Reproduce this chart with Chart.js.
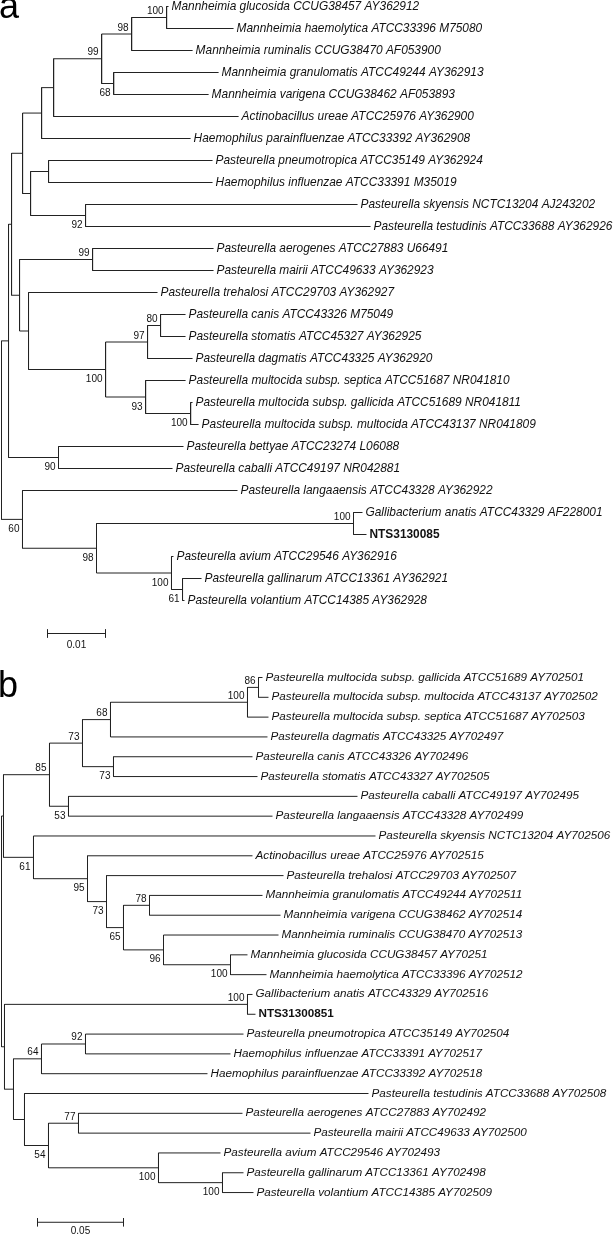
<!DOCTYPE html>
<html>
<head>
<meta charset="utf-8">
<script src="https://cdn.jsdelivr.net/npm/chart.js@4"></script>
<style>
  body { margin: 0; background: #fff; }
  canvas { position: absolute; left: 0; }
</style>
</head>
<body>
<canvas id="treeA" width="615" height="660" style="top:0"></canvas>
<canvas id="treeB" width="615" height="574" style="top:660px"></canvas>
<script>
// leaf names, top to bottom, as printed on each tree
const leavesA = [
  'Mannheimia glucosida CCUG38457 AY362912',
  'Mannheimia haemolytica ATCC33396 M75080',
  'Mannheimia ruminalis CCUG38470 AF053900',
  'Mannheimia granulomatis ATCC49244 AY362913',
  'Mannheimia varigena CCUG38462 AF053893',
  'Actinobacillus ureae ATCC25976 AY362900',
  'Haemophilus parainfluenzae ATCC33392 AY362908',
  'Pasteurella pneumotropica ATCC35149 AY362924',
  'Haemophilus influenzae ATCC33391 M35019',
  'Pasteurella skyensis NCTC13204 AJ243202',
  'Pasteurella testudinis ATCC33688 AY362926',
  'Pasteurella aerogenes ATCC27883 U66491',
  'Pasteurella mairii ATCC49633 AY362923',
  'Pasteurella trehalosi ATCC29703 AY362927',
  'Pasteurella canis ATCC43326 M75049',
  'Pasteurella stomatis ATCC45327 AY362925',
  'Pasteurella dagmatis ATCC43325 AY362920',
  'Pasteurella multocida subsp. septica ATCC51687 NR041810',
  'Pasteurella multocida subsp. gallicida ATCC51689 NR041811',
  'Pasteurella multocida subsp. multocida ATCC43137 NR041809',
  'Pasteurella bettyae ATCC23274 L06088',
  'Pasteurella caballi ATCC49197 NR042881',
  'Pasteurella langaaensis ATCC43328 AY362922',
  'Gallibacterium anatis ATCC43329 AF228001',
  'NTS3130085',
  'Pasteurella avium ATCC29546 AY362916',
  'Pasteurella gallinarum ATCC13361 AY362921',
  'Pasteurella volantium ATCC14385 AY362928'
];
const leavesB = [
  'Pasteurella multocida subsp. gallicida ATCC51689 AY702501',
  'Pasteurella multocida subsp. multocida ATCC43137 AY702502',
  'Pasteurella multocida subsp. septica ATCC51687 AY702503',
  'Pasteurella dagmatis ATCC43325 AY702497',
  'Pasteurella canis ATCC43326 AY702496',
  'Pasteurella stomatis ATCC43327 AY702505',
  'Pasteurella caballi ATCC49197 AY702495',
  'Pasteurella langaaensis ATCC43328 AY702499',
  'Pasteurella skyensis NCTC13204 AY702506',
  'Actinobacillus ureae ATCC25976 AY702515',
  'Pasteurella trehalosi ATCC29703 AY702507',
  'Mannheimia granulomatis ATCC49244 AY702511',
  'Mannheimia varigena CCUG38462 AY702514',
  'Mannheimia ruminalis CCUG38470 AY702513',
  'Mannheimia glucosida CCUG38457 AY70251',
  'Mannheimia haemolytica ATCC33396 AY702512',
  'Gallibacterium anatis ATCC43329 AY702516',
  'NTS31300851',
  'Pasteurella pneumotropica ATCC35149 AY702504',
  'Haemophilus influenzae ATCC33391 AY702517',
  'Haemophilus parainfluenzae ATCC33392 AY702518',
  'Pasteurella testudinis ATCC33688 AY702508',
  'Pasteurella aerogenes ATCC27883 AY702492',
  'Pasteurella mairii ATCC49633 AY702500',
  'Pasteurella avium ATCC29546 AY702493',
  'Pasteurella gallinarum ATCC13361 AY702498',
  'Pasteurella volantium ATCC14385 AY702509'
];

// topology, bootstrap values and branch lengths (leaves referred to by index)
const newickA = '(((((((((0:0.00034,1:0.01155)100:0.00603,2:0.01052)98:0.00517,(3:0.01810,4:0.01638)68:0.00207)99:0.00828,5:0.03190):0.00207,6:0.02569):0.00328,((7:0.02828,8:0.02828):0.00310,(9:0.04690,10:0.04914)92:0.00948):0.00138):0.00190,((11:0.02086,12:0.02086)99:0.01259,(13:0.02224,(((14:0.00431,15:0.00431)80:0.00224,16:0.00776)97:0.00724,(17:0.00690,(18:0.00034,19:0.00138)100:0.00776)93:0.00690)100:0.01328):0.00155):0.00138):0.00052,(20:0.02155,21:0.01966)90:0.00862):0.00121,(22:0.03707,((23:0.00155,24:0.00224)100:0.04431,(25:0.00034,(26:0.00328,27:0.00034)61:0.00190)100:0.01293)98:0.01276)60:0.00362);';
const newickB = '(((((((0:0.00233,1:0.00581)86:0.00640,2:0.01221)100:0.07965,3:0.09128)68:0.01628,(4:0.08081,5:0.08372)73:0.01802)73:0.01919,(6:0.16802,7:0.11860)53:0.01105)85:0.02674,(8:0.19884,(9:0.09593,(10:0.10291,((11:0.06570,12:0.07616)78:0.01512,(13:0.06686,(14:0.00988,15:0.02093)100:0.03895)96:0.02326)65:0.00988)73:0.01105)95:0.03140)61:0.01744):0.00116,((16:0.00291,17:0.00465)100:0.14128,(((18:0.09186,19:0.08430)92:0.02558,20:0.09651)64:0.01628,(21:0.2,((22:0.09535,23:0.13488)77:0.01744,(24:0.03605,(25:0.01221,26:0.01802)100:0.03721)100:0.06395)54:0.01395):0.00640):0.00523):0.00174);';

const boldA = [24];
const boldB = [17];
const scaleBarA = 0.01;
const scaleBarB = 0.05;

const lineColor = '#222';
const textColor = '#111';
const fam = "'Liberation Sans', Arial, sans-serif";

function parseNewick(s) {
  let i = 0;
  function node() {
    const n = { children: [], length: 0 };
    if (s[i] === '(') {
      i++;
      n.children.push(node());
      while (s[i] === ',') { i++; n.children.push(node()); }
      i++;
    }
    let label = '';
    while (i < s.length && !':,);'.includes(s[i])) label += s[i++];
    if (s[i] === ':') {
      i++;
      let num = '';
      while (i < s.length && !',);'.includes(s[i])) num += s[i++];
      n.length = parseFloat(num);
    }
    if (n.children.length) n.support = label === '' ? null : +label;
    else n.leaf = +label;
    return n;
  }
  return node();
}

function layoutTree(root) {
  const leaves = [], inner = [];
  (function walk(n, depth) {
    n.x = depth + n.length;
    if (!n.children.length) { n.y = leaves.length; leaves.push(n); return; }
    n.children.forEach((c, k) => { c.first = k === 0; walk(c, n.x); });
    n.y = (n.children[0].y + n.children[n.children.length - 1].y) / 2;
    inner.push(n);
  })(root, 0);
  return { leaves, inner };
}

function drawTree(id, o) {
  const tree = layoutTree(parseNewick(o.newick));
  const cv = document.getElementById(id);
  const W = cv.width, H = cv.height;

  // branches as one line with gaps between segments
  const pts = [];
  tree.inner.forEach(n => {
    const a = n.children[0], b = n.children[n.children.length - 1];
    pts.push({ x: n.x, y: a.y }, { x: n.x, y: b.y }, { x: null, y: null });
    n.children.forEach(c => {
      pts.push({ x: n.x, y: c.y }, { x: c.x, y: c.y }, { x: null, y: null });
    });
  });

  // scale bar
  const barY = tree.leaves.length + 0.5;
  const barX = (o.barPx - o.rootPx) / o.pxPerUnit;
  const tick = 4 / o.rowPx;
  const bar = [
    { x: barX, y: barY - tick }, { x: barX, y: barY + tick }, { x: null, y: null },
    { x: barX, y: barY }, { x: barX + o.bar, y: barY }, { x: null, y: null },
    { x: barX + o.bar, y: barY - tick }, { x: barX + o.bar, y: barY + tick }
  ];

  const labels = {
    id: 'labels_' + id,
    afterDatasetsDraw(chart) {
      const ctx = chart.ctx;
      const xs = chart.scales.x, ys = chart.scales.y;
      ctx.save();
      ctx.fillStyle = textColor;
      ctx.textBaseline = 'alphabetic';

      ctx.textAlign = 'left';
      tree.leaves.forEach(n => {
        ctx.font = (o.bold.includes(n.leaf) ? 'bold ' : 'italic ') + o.leafSize + 'px ' + fam;
        ctx.fillText(o.names[n.leaf], xs.getPixelForValue(n.x) + 3, ys.getPixelForValue(n.y) + 3);
      });

      ctx.font = '10px ' + fam;
      ctx.textAlign = 'right';
      tree.inner.forEach(n => {
        if (n.support == null) return;
        const py = ys.getPixelForValue(n.y);
        ctx.fillText(String(n.support), xs.getPixelForValue(n.x) - 3, n.first ? py - 3.5 : py + 12.5);
      });

      ctx.textAlign = 'center';
      ctx.fillText(o.barLabel, xs.getPixelForValue(barX + o.bar / 2), ys.getPixelForValue(barY) + o.barTextDy);

      ctx.textAlign = 'left';
      ctx.font = '36px ' + fam;
      ctx.fillStyle = '#000';
      ctx.fillText(o.letter, o.letterX, o.letterY);
      ctx.restore();
    }
  };

  const xMin = -o.rootPx / o.pxPerUnit;
  const yMin = -o.firstRowPx / o.rowPx;

  return new Chart(cv.getContext('2d'), {
    type: 'scatter',
    data: {
      datasets: [
        { data: pts, showLine: true, borderColor: lineColor, borderWidth: 1, pointRadius: 0, spanGaps: false },
        { data: bar, showLine: true, borderColor: lineColor, borderWidth: 1, pointRadius: 0, spanGaps: false }
      ]
    },
    options: {
      responsive: false,
      devicePixelRatio: 1,
      animation: false,
      events: [],
      layout: { padding: 0 },
      plugins: { legend: { display: false }, tooltip: { enabled: false } },
      scales: {
        x: { type: 'linear', display: false, bounds: 'data', min: xMin, max: xMin + W / o.pxPerUnit },
        y: { type: 'linear', display: false, bounds: 'data', reverse: true, min: yMin, max: yMin + H / o.rowPx }
      }
    },
    plugins: [labels]
  });
}

drawTree('treeA', {
  newick: newickA, names: leavesA, bold: boldA, leafSize: 11.9,
  bar: scaleBarA, barLabel: '0.01', barPx: 47.5, barTextDy: 14,
  pxPerUnit: 58 / 0.01, rootPx: 1.5, rowPx: 22, firstRowPx: 6.5,
  letter: 'a', letterX: -1, letterY: 18
});
drawTree('treeB', {
  newick: newickB, names: leavesB, bold: boldB, leafSize: 11.7,
  bar: scaleBarB, barLabel: '0.05', barPx: 37.5, barTextDy: 11.5,
  pxPerUnit: 86 / 0.05, rootPx: 1.5, rowPx: 19.81, firstRowPx: 17.5,
  letter: 'b', letterX: -2, letterY: 37
});
</script>
</body>
</html>
